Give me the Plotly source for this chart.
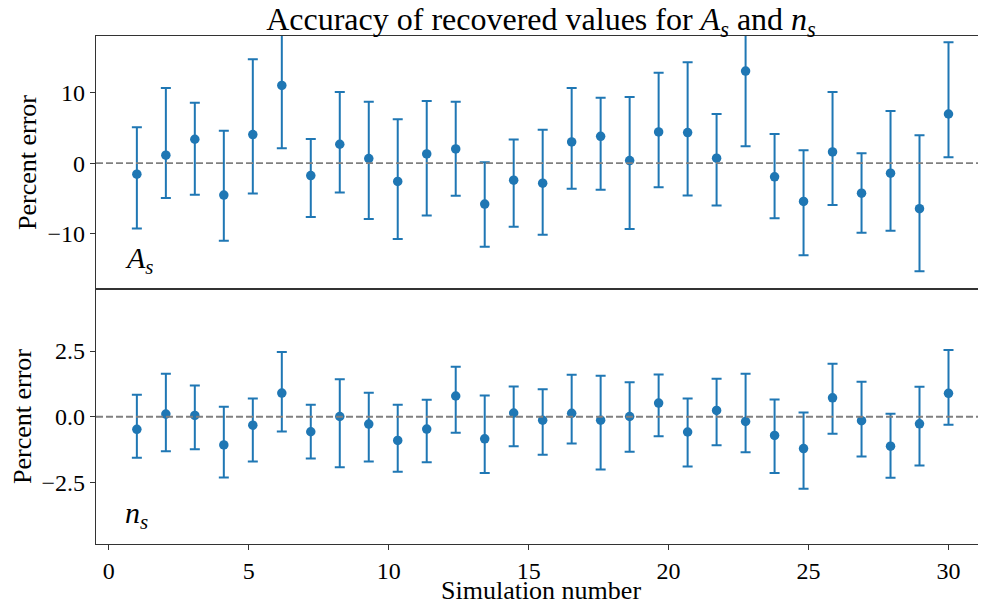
import plotly.graph_objects as go
from plotly.subplots import make_subplots

# Simulation positions (29 runs spread over 1..30)
sim_x = [1.0, 2.036, 3.071, 4.107, 5.143, 6.179, 7.214, 8.25, 9.286, 10.321,
         11.357, 12.393, 13.429, 14.464, 15.5, 16.536, 17.571, 18.607, 19.643,
         20.679, 21.714, 22.75, 23.786, 24.821, 25.857, 26.893, 27.929, 28.964, 30.0]

# A_s percent error
as_val = [-1.56, 1.13, 3.40, -4.53, 4.06, 11.04, -1.75, 2.69, 0.66, -2.59,
          1.32, 2.03, -5.80, -2.41, -2.83, 3.02, 3.82, 0.38, 4.43, 4.34,
          0.71, 13.07, -1.93, -5.42, 1.60, -4.25, -1.42, -6.46, 6.98]
as_plus = [6.65, 9.53, 5.18, 9.15, 10.70, 9.0, 5.19, 7.40, 8.07, 8.82,
           7.50, 6.70, 5.94, 5.76, 7.59, 7.64, 5.47, 9.01, 8.40, 10.00,
           6.27, 10.7, 6.08, 7.26, 8.49, 5.67, 8.83, 10.42, 10.19]
as_minus = [7.69, 6.08, 7.88, 6.46, 8.35, 8.92, 5.89, 6.84, 8.58, 8.16,
            8.73, 6.65, 6.04, 6.60, 7.31, 6.65, 7.59, 9.72, 7.83, 8.92,
            6.70, 10.66, 5.90, 7.65, 7.54, 5.61, 8.16, 8.87, 6.13]

# n_s percent error
ns_val = [-0.48, 0.10, 0.05, -1.07, -0.32, 0.90, -0.57, 0.01, -0.28, -0.90,
          -0.47, 0.79, -0.84, 0.14, -0.13, 0.13, -0.13, 0.01, 0.52, -0.58,
          0.24, -0.18, -0.71, -1.21, 0.72, -0.15, -1.12, -0.27, 0.89]
ns_plus = [1.32, 1.54, 1.14, 1.45, 1.01, 1.56, 1.03, 1.42, 1.19, 1.36,
           1.12, 1.11, 1.65, 1.01, 1.18, 1.47, 1.69, 1.30, 1.09, 1.27,
           1.21, 1.82, 1.37, 1.37, 1.30, 1.48, 1.23, 1.41, 1.65]
ns_minus = [1.08, 1.41, 1.29, 1.24, 1.38, 1.46, 1.02, 1.93, 1.42, 1.19,
            1.26, 1.40, 1.30, 1.26, 1.32, 1.15, 1.88, 1.34, 1.26, 1.31,
            1.32, 1.17, 1.43, 1.53, 1.37, 1.36, 1.20, 1.58, 1.19]

x_ticks = [0, 5, 10, 15, 20, 25, 30]
top_ticks = [-10, 0, 10]
bot_ticks = [-2.5, 0.0, 2.5]

BLUE = "#1f77b4"
FONT = "Liberation Serif"
TICK_SIZE = 24
LABEL_SIZE = 26

fig = make_subplots(rows=2, cols=1, shared_xaxes=True, vertical_spacing=0.0)

for row, vals, ep, em in [(1, as_val, as_plus, as_minus), (2, ns_val, ns_plus, ns_minus)]:
    fig.add_trace(go.Scatter(
        x=sim_x, y=vals, mode="markers",
        marker=dict(color=BLUE, size=9.5),
        error_y=dict(type="data", symmetric=False, array=ep, arrayminus=em,
                     color=BLUE, thickness=2, width=5),
        showlegend=False, cliponaxis=True,
    ), row=row, col=1)
    fig.add_shape(type="line", xref=("x domain" if row == 1 else "x2 domain"),
                  yref=("y" if row == 1 else "y2"), x0=0, x1=1, y0=0, y1=0,
                  line=dict(color="gray", width=1.8, dash="7px,3px"))

axis_common = dict(showline=True, linecolor="#333", linewidth=1.2, ticks="outside",
                   ticklen=5, tickcolor="#333", showgrid=False, zeroline=False,
                   automargin=False,
                   tickfont=dict(family=FONT, size=TICK_SIZE, color="black"))

fig.update_xaxes(range=[-0.46, 31.34], mirror=True, tickvals=x_ticks, **axis_common)
fig.update_xaxes(showticklabels=False, ticks="", row=1, col=1)
fig.update_yaxes(**axis_common)
fig.update_yaxes(range=[-17.85, 18.05], tickvals=top_ticks,
                 title=dict(text="Percent error", font=dict(family=FONT, size=LABEL_SIZE, color="black"), standoff=3),
                 row=1, col=1)
fig.update_yaxes(range=[-4.84, 4.86], tickvals=bot_ticks, tickformat=".1f",
                 title=dict(text="Percent error", font=dict(family=FONT, size=LABEL_SIZE, color="black"), standoff=3),
                 row=2, col=1)

fig.update_layout(
    width=978, height=597,
    margin=dict(l=88, r=0, t=28, b=61, autoexpand=False),
    plot_bgcolor="white", paper_bgcolor="white",
    title=dict(text="Accuracy of recovered values for <i>A</i><sub><i>s</i></sub> and <i>n</i><sub><i>s</i></sub>",
               x=0.5, xanchor="center", xref="paper", y=1.0, yanchor="top",
               font=dict(family=FONT, size=32, color="black")),
    annotations=[
        dict(text="<i>A</i><sub><i>s</i></sub>", xref="x domain", yref="y domain", x=0.03, y=0.03,
             xanchor="left", yanchor="bottom", showarrow=False,
             font=dict(family=FONT, size=30, color="black")),
        dict(text="<i>n</i><sub><i>s</i></sub>", xref="x2 domain", yref="y2 domain", x=0.03, y=0.03,
             xanchor="left", yanchor="bottom", showarrow=False,
             font=dict(family=FONT, size=30, color="black")),
        dict(text="Simulation number", xref="paper", yref="paper", x=0.5, y=-0.0906,
             xanchor="center", yanchor="middle", showarrow=False,
             font=dict(family=FONT, size=LABEL_SIZE, color="black")),
    ],
)
fig.update_layout(yaxis=dict(domain=[0.502, 1.0]), yaxis2=dict(domain=[0.0, 0.502]))

fig.write_html("out.html")
